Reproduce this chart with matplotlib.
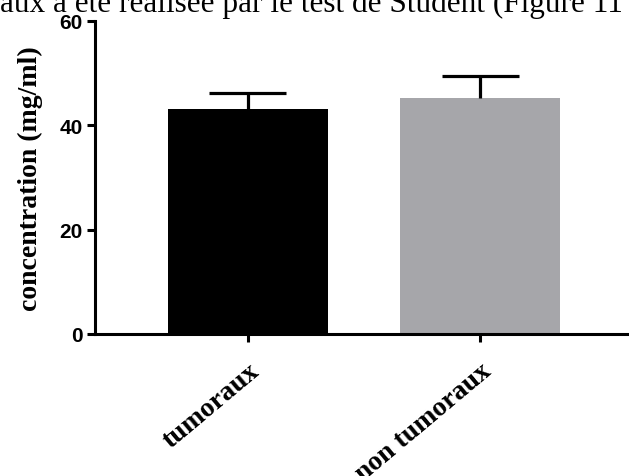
import matplotlib.pyplot as plt

groupes = ["tumoraux", "non tumoraux"]
moyennes = [43.1, 45.2]
erreurs = [3.1, 4.2]
couleurs = ["#000000", "#a6a6aa"]

W, H = 629, 477
fig = plt.figure(figsize=(W / 100, H / 100), dpi=100)
ax = fig.add_axes([95 / W, (H - 335) / H, 1 - 95 / W, 313 / H])

x = range(len(groupes))
ax.bar(x, moyennes, width=0.69, color=couleurs, zorder=2)

# barres d'erreur vers le haut seulement (style GraphPad)
haut = [m + e for m, e in zip(moyennes, erreurs)]
ax.vlines(x, moyennes, haut, color="black", lw=2.3, zorder=3)
ax.hlines(haut, [i - 0.165 for i in x], [i + 0.165 for i in x],
          color="black", lw=2.3, zorder=3)

ax.set_xlim(-0.657, 1.64)
ax.set_ylim(0, 60)
ax.set_yticks([0, 20, 40, 60])
ax.set_yticklabels(["0", "20", "40", "60"], fontsize=15, fontweight="bold",
                   family="Liberation Sans")
ax.set_xticks(list(x))
ax.set_xticklabels(groupes, rotation=40, ha="right", rotation_mode="anchor",
                   fontsize=20, fontweight="bold", family="Liberation Serif")
ax.set_ylabel("concentration (mg/ml)", fontsize=20, fontweight="bold",
              family="Liberation Serif", labelpad=12)

for s in ["top", "right"]:
    ax.spines[s].set_visible(False)
for s in ["left", "bottom"]:
    ax.spines[s].set_linewidth(2.2)
ax.tick_params(axis="both", width=2.2, length=6)
ax.tick_params(axis="y", pad=3)
ax.tick_params(axis="x", pad=11)

# ligne du texte du document, coupée par le bord haut
fig.text(0.0, (H - 12) / H, "aux a été réalisée par le test de Student (Figure 11",
         fontsize=22.5, family="Liberation Serif", va="baseline", ha="left")

fig.savefig("out.png", dpi=100)
